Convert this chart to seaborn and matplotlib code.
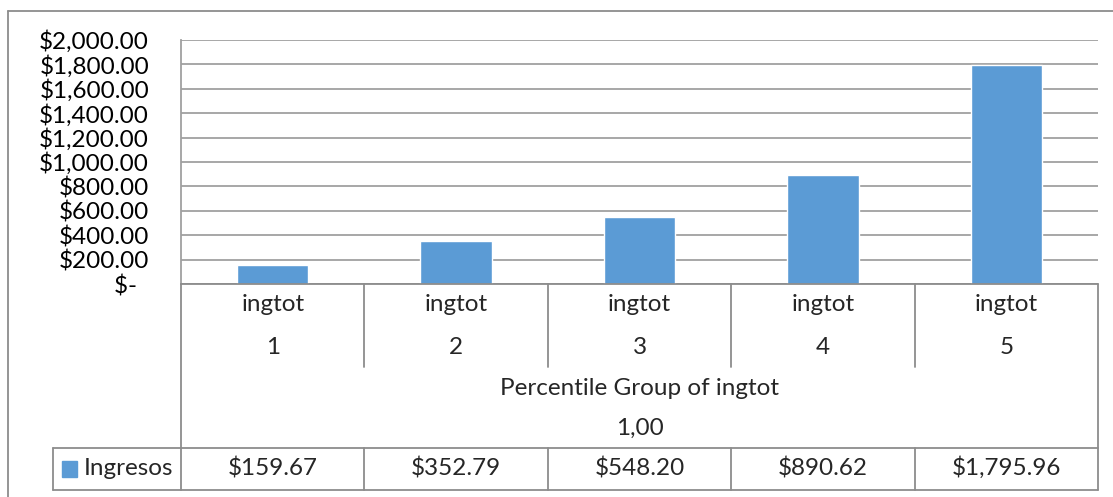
import matplotlib
matplotlib.use("Agg")
import matplotlib.pyplot as plt
import seaborn as sns
import pandas as pd
from matplotlib.ticker import FuncFormatter
from matplotlib.patches import Rectangle
from matplotlib.lines import Line2D


# -----------------------------
# Data
# -----------------------------

categories = ["1", "2", "3", "4", "5"]
row_label = "ingtot"
values = [159.67, 352.79, 548.20, 890.62, 1795.96]
series_name = "Ingresos"
group_title = "Percentile Group of ingtot"
group_value = "1,00"
y_ticks = [0, 200, 400, 600, 800, 1000, 1200, 1400, 1600, 1800, 2000]


# -----------------------------
# Style
# -----------------------------

W, H = 1113, 497
BAR = "#5B9BD5"
GRID = "#A0A0A0"
EDGE = "#8C8C8C"
FS = 17.5

sns.set_theme(style="white")
plt.rcParams["font.family"] = ["Lato", "DejaVu Sans"]


def px_rect(l, t, r, b):
    return [l / W, 1 - b / H, (r - l) / W, (b - t) / H]


fig = plt.figure(figsize=(W / 100, H / 100), dpi=100)


# -----------------------------
# Bars
# -----------------------------

ax = fig.add_axes(px_rect(181, 40, 1098, 284))

df = pd.DataFrame({"grupo": categories, "valor": values})

sns.barplot(
    data=df,
    x="grupo",
    y="valor",
    color=BAR,
    saturation=1,
    width=0.39,
    ax=ax
)

ax.set_xlim(-0.5, 4.5)
ax.set_ylim(0, 2000)
ax.set_yticks(y_ticks)
ax.yaxis.set_major_formatter(
    FuncFormatter(lambda v, _: "$-  " if v == 0 else f"${v:,.2f}")
)
ax.tick_params(axis="y", length=0, pad=23, labelsize=FS, labelcolor="black")
ax.tick_params(axis="x", length=0, labelbottom=False)
ax.set_xlabel("")
ax.set_ylabel("")
ax.grid(axis="y", color=GRID, lw=1.3)
ax.set_axisbelow(True)
for s in ["top", "right", "bottom"]:
    ax.spines[s].set_visible(False)
ax.spines["left"].set_color(GRID)
ax.spines["left"].set_linewidth(1.3)


# -----------------------------
# Data table under the chart
# -----------------------------

tax = fig.add_axes(px_rect(181, 284, 1098, 490), sharex=ax)
tax.set_ylim(490, 284)
tax.axis("off")

col_w = (1098 - 181) / len(categories)


def px_x(px):
    return -0.5 + (px - 181) / col_w


left = -0.5
right = len(categories) - 0.5
leg_left = px_x(53)


def seg(xs, ys):
    tax.add_line(Line2D(xs, ys, color=EDGE, lw=1.3, clip_on=False))


seg([left, right], [284, 284])
seg([left, left], [284, 490])
seg([right, right], [284, 490])
seg([leg_left, right], [448, 448])
seg([leg_left, right], [490, 490])
seg([leg_left, leg_left], [448, 490])

for i in range(len(categories) - 1):
    seg([i + 0.5, i + 0.5], [284, 367])
    seg([i + 0.5, i + 0.5], [448, 490])

for i, (cat, val) in enumerate(zip(categories, values)):
    tax.text(i, 311, row_label, ha="center", va="baseline", fontsize=FS)
    tax.text(i, 354, cat, ha="center", va="baseline", fontsize=FS)
    tax.text(i, 475, f"${val:,.2f}", ha="center", va="baseline", fontsize=FS)

mid = (len(categories) - 1) / 2
tax.text(mid, 395, group_title, ha="center", va="baseline", fontsize=FS)
tax.text(mid, 435, group_value, ha="center", va="baseline", fontsize=FS)

tax.add_patch(
    Rectangle((px_x(62), 461), px_x(77) - px_x(62), 16,
              color=BAR, clip_on=False)
)
tax.text(px_x(84), 475, series_name, ha="left", va="baseline", fontsize=FS)


# -----------------------------
# Outer chart border
# -----------------------------

fig.add_artist(Line2D([8 / W, 1], [1 - 11 / H, 1 - 11 / H],
                      color=EDGE, lw=1.3, transform=fig.transFigure))
fig.add_artist(Line2D([8 / W, 8 / W], [0, 1 - 11 / H],
                      color=EDGE, lw=1.3, transform=fig.transFigure))

fig.savefig("out.png", dpi=100)
